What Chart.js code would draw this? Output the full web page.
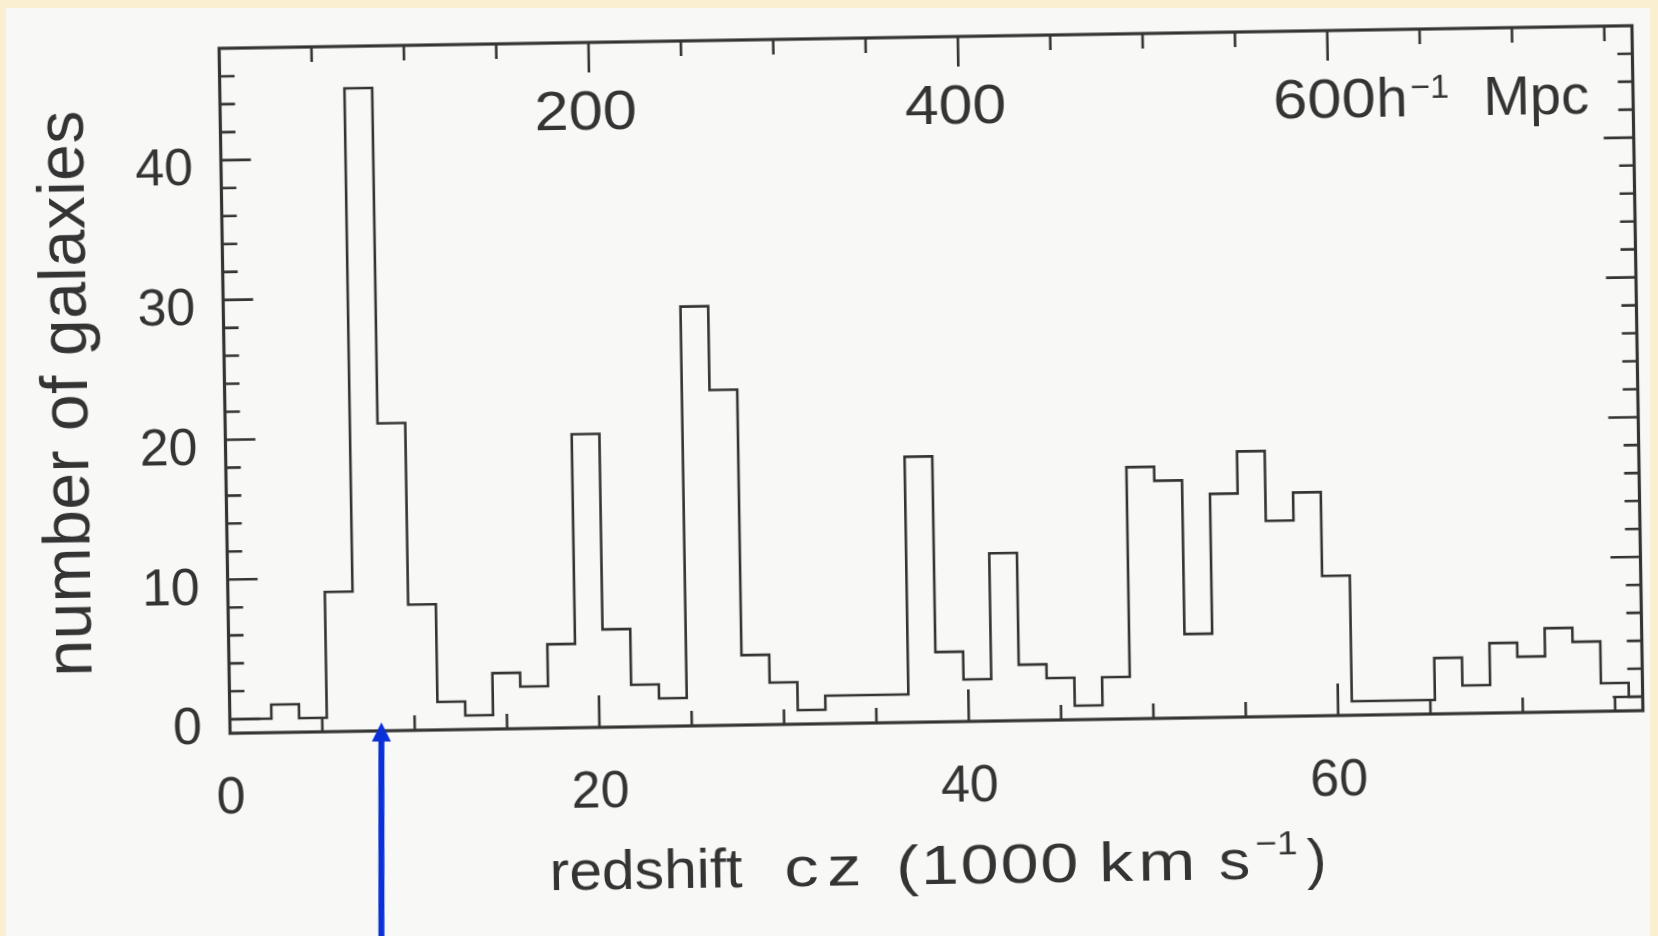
<!DOCTYPE html>
<html>
<head>
<meta charset="utf-8">
<script src="https://cdn.jsdelivr.net/npm/chart.js@4.4.1/dist/chart.umd.min.js"></script>
<style>
  html, body { margin: 0; padding: 0; }
  body { width: 1658px; height: 936px; background: #fbefd2; overflow: hidden; position: relative; }
  #paper { position: absolute; left: 6px; top: 8px; right: 8px; bottom: 0; background: #f8f8f6; }
  /* the printed figure sits slightly askew on the page */
  #wrap { position: absolute; left: 0; top: 0; width: 1658px; height: 936px;
          transform: rotate(-0.92deg); transform-origin: 931px 379px; }
</style>
</head>
<body>
<div id="paper"></div>
<div id="wrap"><canvas id="histChart" width="1658" height="936"></canvas></div>
<script>
// bin edges in cz (1000 km/s); counts[i] covers binEdges[i]..binEdges[i+1]
const binEdges = [0, 0.75, 2.25, 3.75, 5.25, 6.75, 8.25, 9.75, 11.25, 12.75, 14.25,
  15.75, 17.25, 18.75, 20.25, 21.75, 23.25, 24.75, 26.25, 27.75, 29.25, 30.75,
  32.25, 33.75, 35.25, 36.75, 38.25, 39.75, 41.25, 42.75, 44.25, 45.75, 47.25,
  48.75, 50.25, 51.75, 53.25, 54.75, 56.25, 57.75, 59.25, 60.75, 62.25, 63.75,
  65.25, 66.75, 68.25, 69.75, 71.25, 72.75, 74.25, 75.75, 76.5];
const counts = [0, 0, 1, 0, 9, 45, 21, 8, 1, 0, 3, 2, 5, 20, 6, 2, 1, 29, 23, 4, 2,
  0, 1, 1, 1, 18, 4, 2, 11, 3, 2, 0, 2, 17, 16, 5, 15, 18, 13, 15, 9, 0, 0, 0,
  3, 1, 4, 3, 5, 4, 1, 0];

const xTickLabels = [0, 20, 40, 60];
const yTickLabels = [0, 10, 20, 30, 40];
const topTickLabels = [200, 400, 600];   // h^-1 Mpc
const mpcPerUnit = 10;                   // 1000 km/s -> 10 h^-1 Mpc
const arrowAt = { x: 8.2, y: -0.4 };

const ink = '#343434';
const family = "'Liberation Sans', Arial, Helvetica, sans-serif";
const tilt = -0.92 * Math.PI / 180;

const points = binEdges.map((e, i) => ({ x: e, y: counts[Math.min(i, counts.length - 1)] }));

// draws a row of text pieces; {gap} entries add blank space, dy raises exponents
function drawRuns(ctx, runs, x, y, align) {
  let total = 0;
  runs.forEach(r => {
    if (r.gap) { r.w = r.gap; } else {
      ctx.font = r.size + 'px ' + family;
      r.w = ctx.measureText(r.text).width;
    }
    total += r.w;
  });
  let cx = align === 'center' ? x - total / 2 : x;
  runs.forEach(r => {
    if (!r.gap) {
      ctx.font = r.size + 'px ' + family;
      ctx.fillText(r.text, cx, y + (r.dy || 0));
    }
    cx += r.w;
  });
}

// fits a word between x0 and x1: some sideways stretch (the printed face
// is rounder), the rest as extra letter spacing
function fitWord(ctx, text, size, x0, x1, y) {
  ctx.font = size + 'px ' + family;
  ctx.textAlign = 'left';
  ctx.letterSpacing = '0px';
  const m = ctx.measureText(text);
  const w = m.actualBoundingBoxLeft + m.actualBoundingBoxRight;
  let sx = Math.min((x1 - x0) / w, 1.22);
  let ls = 0;
  if (text.length > 1) ls = ((x1 - x0) - w * sx) / (text.length - 1) / sx;
  ctx.save();
  ctx.translate(x0, y);
  ctx.scale(sx, 1);
  ctx.letterSpacing = Math.max(ls, 0) + 'px';
  ctx.fillText(text, m.actualBoundingBoxLeft, 0);
  ctx.restore();
}

const frameAndLabels = {
  id: 'frameAndLabels',
  afterDraw(chart) {
    const { ctx, chartArea: a, scales: { x, y } } = chart;
    ctx.save();
    ctx.strokeStyle = ink;
    ctx.fillStyle = ink;
    ctx.lineCap = 'butt';

    // box
    ctx.lineWidth = 3.2;
    ctx.strokeRect(a.left, a.top, a.right - a.left, a.bottom - a.top);

    ctx.lineWidth = 2.6;
    ctx.beginPath();
    // left and right ticks, pointing inwards
    for (let v = 0; v < y.max; v += 2) {
      const py = y.getPixelForValue(v);
      const len = v % 10 === 0 ? 30 : 15;
      ctx.moveTo(a.left, py); ctx.lineTo(a.left + len, py);
      ctx.moveTo(a.right, py); ctx.lineTo(a.right - len, py);
    }
    // bottom ticks
    for (let v = 5; v < x.max; v += 5) {
      const px = x.getPixelForValue(v);
      const len = v % 20 === 0 ? 32 : 15;
      ctx.moveTo(px, a.bottom); ctx.lineTo(px, a.bottom - len);
    }
    // top ticks in h^-1 Mpc
    for (let m = 50; m < x.max * mpcPerUnit; m += 50) {
      const px = x.getPixelForValue(m / mpcPerUnit);
      const len = topTickLabels.includes(m) ? 30 : 15;
      ctx.moveTo(px, a.top); ctx.lineTo(px, a.top + len);
    }
    ctx.stroke();

    // distance labels under the top axis
    ctx.textBaseline = 'middle';
    const topY = a.top + 72;
    topTickLabels.forEach((m, i) => {
      const px = x.getPixelForValue(m / mpcPerUnit) - 4;
      fitWord(ctx, String(m), 56, px - 49, px + 49, topY);
      if (i === topTickLabels.length - 1) {
        drawRuns(ctx, [
          { text: 'h', size: 56 },
          { gap: 3 },
          { text: '\u22121', size: 34, dy: -12 },
          { gap: 34 },
          { text: 'Mpc', size: 56 }
        ], px + 52, topY, 'left');
      }
    });

    // x title, word by word around the middle of the plot
    const midX = (a.left + a.right) / 2;
    const titleY = 869;
    [
      ['redshift', 56, -386, -196, 0],
      ['cz', 56, -152, -80, 0],
      ['(1000', 56, -39, 137, 0],
      ['km', 56, 164, 252, 0],
      ['s', 56, 281, 309, 0],
      ['\u22121', 34, 318, 358, -18],
      [')', 56, 368, 385, 0]
    ].forEach(([t, size, x0, x1, dy]) => fitWord(ctx, t, size, midX + x0, midX + x1, titleY + dy));

    ctx.textAlign = 'left';
    ctx.letterSpacing = '0.5px';
    ctx.save();
    ctx.translate(69, (a.top + a.bottom) / 2);
    ctx.rotate(-Math.PI / 2);
    drawRuns(ctx, [{ text: 'number of galaxies', size: 66 }], 0, 0, 'center');
    ctx.restore();
    ctx.letterSpacing = '0px';

    // marker arrow, kept upright on the page
    const tipX = x.getPixelForValue(arrowAt.x);
    const tipY = y.getPixelForValue(arrowAt.y);
    ctx.translate(tipX, tipY);
    ctx.rotate(-tilt);
    ctx.fillStyle = '#0b30d8';
    ctx.beginPath();
    ctx.moveTo(0, 0);
    ctx.lineTo(9.5, 19);
    ctx.lineTo(-9.5, 19);
    ctx.closePath();
    ctx.fill();
    ctx.fillRect(-3, 18, 6, 260);
    ctx.restore();
  }
};

new Chart(document.getElementById('histChart'), {
  type: 'line',
  data: {
    datasets: [{
      data: points,
      stepped: 'before',
      borderColor: ink,
      borderWidth: 2.6,
      pointRadius: 0,
      fill: false
    }]
  },
  options: {
    responsive: false,
    animation: false,
    layout: { padding: { top: 37, right: 20.5, left: 0, bottom: 0 } },
    plugins: { legend: { display: false }, tooltip: { enabled: false } },
    scales: {
      x: {
        type: 'linear',
        min: 0,
        max: 76.5,
        grid: { display: false, drawTicks: false },
        border: { display: false },
        ticks: { font: { family: family, size: 52 }, color: ink, padding: 34, maxRotation: 0 },
        afterBuildTicks: s => { s.ticks = xTickLabels.map(v => ({ value: v })); },
        afterFit: s => { s.height = 214; s.paddingLeft = 0; s.paddingRight = 0; }
      },
      y: {
        min: -1,
        max: 48,
        grid: { display: false, drawTicks: false },
        border: { display: false },
        ticks: { font: { family: family, size: 52 }, color: ink, padding: 28, labelOffset: 10 },
        afterBuildTicks: s => { s.ticks = yTickLabels.map(v => ({ value: v })); },
        afterFit: s => { s.width = 224.5; s.paddingTop = 0; s.paddingBottom = 0; }
      }
    }
  },
  plugins: [frameAndLabels]
});
</script>
</body>
</html>
